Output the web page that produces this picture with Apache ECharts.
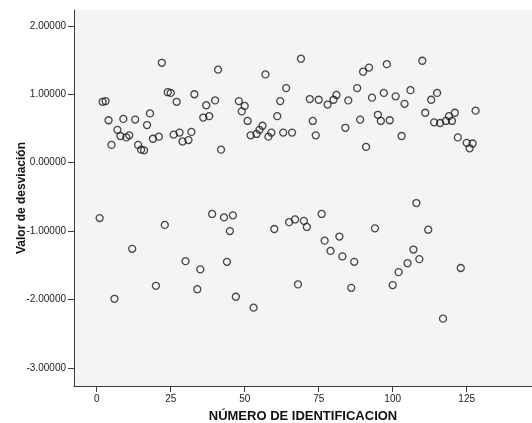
<!DOCTYPE html>
<html>
<head>
<meta charset="utf-8">
<script src="https://cdn.jsdelivr.net/npm/echarts@6/dist/echarts.min.js"></script>
<style>
  html, body { margin: 0; padding: 0; background: #fff; }
  #chart { width: 532px; height: 423px; }
</style>
</head>
<body>
<div id="chart"></div>
<script>
// ID numbers and their deviation values
const ids = [
  1, 2, 3, 4, 5, 6, 7, 8, 9, 10, 11, 12, 13, 14, 15, 16, 17, 18, 19, 20,
  21, 22, 23, 24, 25, 26, 27, 28, 29, 30, 31, 32, 33, 34, 35, 36, 37, 38, 39, 40,
  41, 42, 43, 44, 45, 46, 47, 48, 49, 50, 51, 52, 53, 54, 55, 56, 57, 58, 59, 60,
  61, 62, 63, 64, 65, 66, 67, 68, 69, 70, 71, 72, 73, 74, 75, 76, 77, 78, 79, 80,
  81, 82, 83, 84, 85, 86, 87, 88, 89, 90, 91, 92, 93, 94, 95, 96, 97, 98, 99, 100,
  101, 102, 103, 104, 105, 106, 107, 108, 109, 110, 111, 112, 113, 114, 115, 116, 117, 118, 119, 120,
  121, 122, 123, 125, 126, 127, 128
];
const deviations = [
  -0.81, 0.89, 0.90, 0.62, 0.26, -1.99, 0.48, 0.39, 0.64, 0.37, 0.40, -1.26, 0.63, 0.26, 0.19, 0.18, 0.55, 0.72, 0.35, -1.80,
  0.38, 1.46, -0.91, 1.03, 1.02, 0.41, 0.89, 0.44, 0.31, -1.44, 0.33, 0.45, 1.00, -1.85, -1.56, 0.66, 0.84, 0.68, -0.75, 0.91,
  1.36, 0.19, -0.80, -1.45, -1.00, -0.77, -1.96, 0.90, 0.75, 0.83, 0.61, 0.40, -2.12, 0.42, 0.48, 0.54, 1.29, 0.38, 0.44, -0.97,
  0.68, 0.90, 0.44, 1.09, -0.87, 0.44, -0.83, -1.78, 1.52, -0.85, -0.94, 0.93, 0.61, 0.40, 0.92, -0.75, -1.14, 0.85, -1.29, 0.92,
  0.99, -1.08, -1.37, 0.51, 0.91, -1.83, -1.45, 1.09, 0.63, 1.33, 0.23, 1.39, 0.95, -0.96, 0.70, 0.61, 1.02, 1.44, 0.62, -1.79,
  0.97, -1.60, 0.39, 0.86, -1.47, 1.06, -1.27, -0.59, -1.41, 1.49, 0.73, -0.98, 0.92, 0.59, 1.02, 0.58, -2.28, 0.61, 0.68, 0.61,
  0.73, 0.37, -1.54, 0.29, 0.21, 0.28, 0.76
];
const xTicks = [0, 25, 50, 75, 100, 125];
const yTicks = [-3, -2, -1, 0, 1, 2];

const chart = echarts.init(document.getElementById('chart'));
const font = 'Liberation Sans, Arial, sans-serif';
const axisLine = { show: true, onZero: false, lineStyle: { color: '#3a3a3a', width: 1 } };

chart.setOption({
  animation: false,
  grid: {
    left: 74, right: 0, top: 10, bottom: 37,
    outerBoundsMode: 'none',
    show: true, backgroundColor: '#f4f4f4', borderWidth: 0
  },
  xAxis: {
    type: 'value',
    min: -7.67,
    max: 147.06,
    name: 'NÚMERO DE IDENTIFICACION',
    nameLocation: 'middle',
    nameGap: 24,
    nameTextStyle: { fontFamily: font, fontWeight: 'bold', fontSize: 13, color: '#111' },
    axisLine,
    axisTick: { show: true, length: 6, customValues: xTicks, lineStyle: { color: '#3a3a3a', width: 1 } },
    axisLabel: { customValues: xTicks, fontFamily: font, fontSize: 10, color: '#222', margin: 8 },
    splitLine: { show: false }
  },
  yAxis: {
    type: 'value',
    min: -3.265,
    max: 2.232,
    name: 'Valor de desviación',
    nameLocation: 'middle',
    nameGap: 46,
    nameMoveOverlap: false,
    nameTextStyle: { fontFamily: font, fontWeight: 'bold', fontSize: 12, color: '#111' },
    axisLine,
    axisTick: { show: true, length: 6, customValues: yTicks, lineStyle: { color: '#3a3a3a', width: 1 } },
    axisLabel: {
      customValues: yTicks,
      fontFamily: font, fontSize: 10, color: '#222', margin: 8,
      formatter: v => v.toFixed(5)
    },
    splitLine: { show: false }
  },
  series: [{
    type: 'scatter',
    data: ids.map((id, i) => [id, deviations[i]]),
    symbol: 'circle',
    symbolSize: 7,
    itemStyle: { color: 'rgba(0,0,0,0)', borderColor: '#1a1a1a', borderWidth: 1.3 },
    emphasis: { disabled: true }
  }]
});
</script>
</body>
</html>
